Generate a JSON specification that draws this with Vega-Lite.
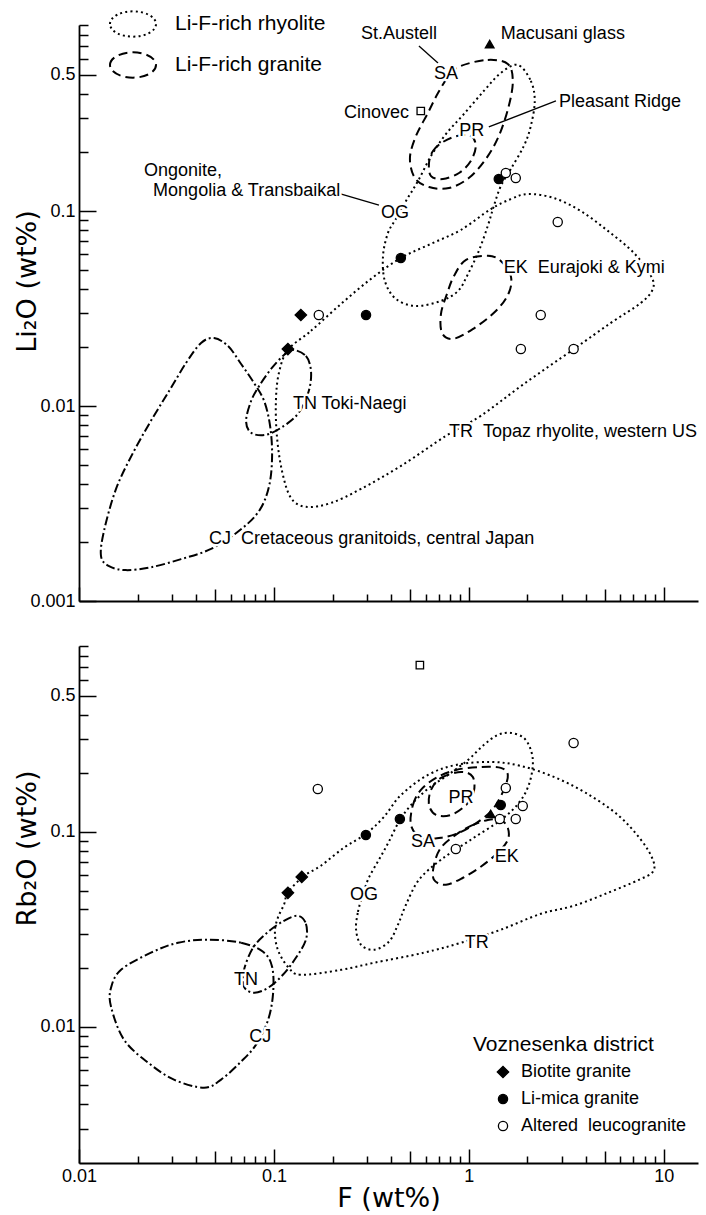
{
  "$schema": "https://vega.github.io/schema/vega-lite/v6.json",
  "padding": {"left": 13, "top": 0, "right": 4, "bottom": 0},
  "config": {
    "font": "Liberation Sans",
    "view": {"stroke": null},
    "axis": {"domainColor": "black", "domainWidth": 1.8, "tickColor": "black", "tickWidth": 1.5, "labelColor": "black", "labelFont": "Liberation Sans", "labelFontSize": 18, "titleColor": "black", "titleFont": "DejaVu Sans", "titleFontSize": 27, "titleFontWeight": "normal", "grid": false, "labelFlush": false, "labelOverlap": false}
  },
  "datasets": {
    "contoursTop": [
      {"id": "TR", "kind": "Li-F-rich rhyolite", "order": 1, "x": 0.118, "y": 0.0194},
      {"id": "TR", "kind": "Li-F-rich rhyolite", "order": 2, "x": 0.155, "y": 0.0243},
      {"id": "TR", "kind": "Li-F-rich rhyolite", "order": 3, "x": 0.221, "y": 0.0334},
      {"id": "TR", "kind": "Li-F-rich rhyolite", "order": 4, "x": 0.315, "y": 0.0449},
      {"id": "TR", "kind": "Li-F-rich rhyolite", "order": 5, "x": 0.449, "y": 0.0575},
      {"id": "TR", "kind": "Li-F-rich rhyolite", "order": 6, "x": 0.64, "y": 0.0679},
      {"id": "TR", "kind": "Li-F-rich rhyolite", "order": 7, "x": 0.912, "y": 0.0801},
      {"id": "TR", "kind": "Li-F-rich rhyolite", "order": 8, "x": 1.297, "y": 0.1024},
      {"id": "TR", "kind": "Li-F-rich rhyolite", "order": 9, "x": 1.643, "y": 0.1152},
      {"id": "TR", "kind": "Li-F-rich rhyolite", "order": 10, "x": 2.01, "y": 0.1223},
      {"id": "TR", "kind": "Li-F-rich rhyolite", "order": 11, "x": 2.731, "y": 0.1166},
      {"id": "TR", "kind": "Li-F-rich rhyolite", "order": 12, "x": 3.758, "y": 0.1},
      {"id": "TR", "kind": "Li-F-rich rhyolite", "order": 13, "x": 5.171, "y": 0.0791},
      {"id": "TR", "kind": "Li-F-rich rhyolite", "order": 14, "x": 7.032, "y": 0.061},
      {"id": "TR", "kind": "Li-F-rich rhyolite", "order": 15, "x": 8.597, "y": 0.0465},
      {"id": "TR", "kind": "Li-F-rich rhyolite", "order": 16, "x": 8.802, "y": 0.0399},
      {"id": "TR", "kind": "Li-F-rich rhyolite", "order": 17, "x": 7.638, "y": 0.0338},
      {"id": "TR", "kind": "Li-F-rich rhyolite", "order": 18, "x": 5.358, "y": 0.0267},
      {"id": "TR", "kind": "Li-F-rich rhyolite", "order": 19, "x": 3.46, "y": 0.0196},
      {"id": "TR", "kind": "Li-F-rich rhyolite", "order": 20, "x": 1.916, "y": 0.01297},
      {"id": "TR", "kind": "Li-F-rich rhyolite", "order": 21, "x": 1.152, "y": 0.00891},
      {"id": "TR", "kind": "Li-F-rich rhyolite", "order": 22, "x": 0.764, "y": 0.00703},
      {"id": "TR", "kind": "Li-F-rich rhyolite", "order": 23, "x": 0.449, "y": 0.00493},
      {"id": "TR", "kind": "Li-F-rich rhyolite", "order": 24, "x": 0.28, "y": 0.00376},
      {"id": "TR", "kind": "Li-F-rich rhyolite", "order": 25, "x": 0.196, "y": 0.00318},
      {"id": "TR", "kind": "Li-F-rich rhyolite", "order": 26, "x": 0.146, "y": 0.00304},
      {"id": "TR", "kind": "Li-F-rich rhyolite", "order": 27, "x": 0.1223, "y": 0.00338},
      {"id": "TR", "kind": "Li-F-rich rhyolite", "order": 28, "x": 0.11, "y": 0.00465},
      {"id": "TR", "kind": "Li-F-rich rhyolite", "order": 29, "x": 0.1036, "y": 0.00703},
      {"id": "TR", "kind": "Li-F-rich rhyolite", "order": 30, "x": 0.1024, "y": 0.01061},
      {"id": "TR", "kind": "Li-F-rich rhyolite", "order": 31, "x": 0.1061, "y": 0.01477},
      {"id": "OG", "kind": "Li-F-rich rhyolite", "order": 1, "x": 1.785, "y": 0.562},
      {"id": "OG", "kind": "Li-F-rich rhyolite", "order": 2, "x": 2.081, "y": 0.465},
      {"id": "OG", "kind": "Li-F-rich rhyolite", "order": 3, "x": 2.18, "y": 0.367},
      {"id": "OG", "kind": "Li-F-rich rhyolite", "order": 4, "x": 2.081, "y": 0.273},
      {"id": "OG", "kind": "Li-F-rich rhyolite", "order": 5, "x": 1.916, "y": 0.2156},
      {"id": "OG", "kind": "Li-F-rich rhyolite", "order": 6, "x": 1.643, "y": 0.1643},
      {"id": "OG", "kind": "Li-F-rich rhyolite", "order": 7, "x": 1.46, "y": 0.1344},
      {"id": "OG", "kind": "Li-F-rich rhyolite", "order": 8, "x": 1.344, "y": 0.1061},
      {"id": "OG", "kind": "Li-F-rich rhyolite", "order": 9, "x": 1.252, "y": 0.084},
      {"id": "OG", "kind": "Li-F-rich rhyolite", "order": 10, "x": 1.126, "y": 0.0625},
      {"id": "OG", "kind": "Li-F-rich rhyolite", "order": 11, "x": 0.991, "y": 0.0476},
      {"id": "OG", "kind": "Li-F-rich rhyolite", "order": 12, "x": 0.88, "y": 0.0389},
      {"id": "OG", "kind": "Li-F-rich rhyolite", "order": 13, "x": 0.72, "y": 0.0346},
      {"id": "OG", "kind": "Li-F-rich rhyolite", "order": 14, "x": 0.536, "y": 0.0326},
      {"id": "OG", "kind": "Li-F-rich rhyolite", "order": 15, "x": 0.423, "y": 0.0354},
      {"id": "OG", "kind": "Li-F-rich rhyolite", "order": 16, "x": 0.371, "y": 0.0438},
      {"id": "OG", "kind": "Li-F-rich rhyolite", "order": 17, "x": 0.363, "y": 0.0589},
      {"id": "OG", "kind": "Li-F-rich rhyolite", "order": 18, "x": 0.385, "y": 0.0773},
      {"id": "OG", "kind": "Li-F-rich rhyolite", "order": 19, "x": 0.423, "y": 0.0912},
      {"id": "OG", "kind": "Li-F-rich rhyolite", "order": 20, "x": 0.476, "y": 0.1126},
      {"id": "OG", "kind": "Li-F-rich rhyolite", "order": 21, "x": 0.549, "y": 0.1426},
      {"id": "OG", "kind": "Li-F-rich rhyolite", "order": 22, "x": 0.64, "y": 0.1916},
      {"id": "OG", "kind": "Li-F-rich rhyolite", "order": 23, "x": 0.764, "y": 0.2485},
      {"id": "OG", "kind": "Li-F-rich rhyolite", "order": 24, "x": 0.945, "y": 0.3148},
      {"id": "OG", "kind": "Li-F-rich rhyolite", "order": 25, "x": 1.194, "y": 0.413},
      {"id": "OG", "kind": "Li-F-rich rhyolite", "order": 26, "x": 1.46, "y": 0.511},
      {"id": "SA", "kind": "Li-F-rich granite", "order": 1, "x": 0.912, "y": 0.555},
      {"id": "SA", "kind": "Li-F-rich granite", "order": 2, "x": 1.252, "y": 0.596},
      {"id": "SA", "kind": "Li-F-rich granite", "order": 3, "x": 1.586, "y": 0.568},
      {"id": "SA", "kind": "Li-F-rich granite", "order": 4, "x": 1.682, "y": 0.465},
      {"id": "SA", "kind": "Li-F-rich granite", "order": 5, "x": 1.604, "y": 0.346},
      {"id": "SA", "kind": "Li-F-rich granite", "order": 6, "x": 1.426, "y": 0.2427},
      {"id": "SA", "kind": "Li-F-rich granite", "order": 7, "x": 1.223, "y": 0.1849},
      {"id": "SA", "kind": "Li-F-rich granite", "order": 8, "x": 1.0, "y": 0.1477},
      {"id": "SA", "kind": "Li-F-rich granite", "order": 9, "x": 0.791, "y": 0.1312},
      {"id": "SA", "kind": "Li-F-rich granite", "order": 10, "x": 0.625, "y": 0.1328},
      {"id": "SA", "kind": "Li-F-rich granite", "order": 11, "x": 0.529, "y": 0.1477},
      {"id": "SA", "kind": "Li-F-rich granite", "order": 12, "x": 0.499, "y": 0.1871},
      {"id": "SA", "kind": "Li-F-rich granite", "order": 13, "x": 0.536, "y": 0.2427},
      {"id": "SA", "kind": "Li-F-rich granite", "order": 14, "x": 0.617, "y": 0.3185},
      {"id": "SA", "kind": "Li-F-rich granite", "order": 15, "x": 0.695, "y": 0.403},
      {"id": "SA", "kind": "Li-F-rich granite", "order": 16, "x": 0.791, "y": 0.493},
      {"id": "PR", "kind": "Li-F-rich granite", "order": 1, "x": 0.625, "y": 0.1764},
      {"id": "PR", "kind": "Li-F-rich granite", "order": 2, "x": 0.655, "y": 0.2032},
      {"id": "PR", "kind": "Li-F-rich granite", "order": 3, "x": 0.737, "y": 0.2261},
      {"id": "PR", "kind": "Li-F-rich granite", "order": 4, "x": 0.87, "y": 0.2427},
      {"id": "PR", "kind": "Li-F-rich granite", "order": 5, "x": 1.024, "y": 0.2427},
      {"id": "PR", "kind": "Li-F-rich granite", "order": 6, "x": 1.086, "y": 0.2156},
      {"id": "PR", "kind": "Li-F-rich granite", "order": 7, "x": 1.024, "y": 0.1806},
      {"id": "PR", "kind": "Li-F-rich granite", "order": 8, "x": 0.891, "y": 0.1567},
      {"id": "PR", "kind": "Li-F-rich granite", "order": 9, "x": 0.737, "y": 0.146},
      {"id": "PR", "kind": "Li-F-rich granite", "order": 10, "x": 0.64, "y": 0.1512},
      {"id": "EK", "kind": "Li-F-rich granite", "order": 1, "x": 1.252, "y": 0.0589},
      {"id": "EK", "kind": "Li-F-rich granite", "order": 2, "x": 1.46, "y": 0.0555},
      {"id": "EK", "kind": "Li-F-rich granite", "order": 3, "x": 1.643, "y": 0.0465},
      {"id": "EK", "kind": "Li-F-rich granite", "order": 4, "x": 1.604, "y": 0.038},
      {"id": "EK", "kind": "Li-F-rich granite", "order": 5, "x": 1.376, "y": 0.0307},
      {"id": "EK", "kind": "Li-F-rich granite", "order": 6, "x": 1.048, "y": 0.0248},
      {"id": "EK", "kind": "Li-F-rich granite", "order": 7, "x": 0.83, "y": 0.0221},
      {"id": "EK", "kind": "Li-F-rich granite", "order": 8, "x": 0.729, "y": 0.0237},
      {"id": "EK", "kind": "Li-F-rich granite", "order": 9, "x": 0.72, "y": 0.0297},
      {"id": "EK", "kind": "Li-F-rich granite", "order": 10, "x": 0.773, "y": 0.0376},
      {"id": "EK", "kind": "Li-F-rich granite", "order": 11, "x": 0.84, "y": 0.0465},
      {"id": "EK", "kind": "Li-F-rich granite", "order": 12, "x": 0.968, "y": 0.0562},
      {"id": "TN", "kind": "other", "order": 1, "x": 0.1252, "y": 0.0194},
      {"id": "TN", "kind": "other", "order": 2, "x": 0.146, "y": 0.01806},
      {"id": "TN", "kind": "other", "order": 3, "x": 0.155, "y": 0.01512},
      {"id": "TN", "kind": "other", "order": 4, "x": 0.151, "y": 0.01194},
      {"id": "TN", "kind": "other", "order": 5, "x": 0.134, "y": 0.00923},
      {"id": "TN", "kind": "other", "order": 6, "x": 0.1126, "y": 0.00791},
      {"id": "TN", "kind": "other", "order": 7, "x": 0.0912, "y": 0.00712},
      {"id": "TN", "kind": "other", "order": 8, "x": 0.0764, "y": 0.00729},
      {"id": "TN", "kind": "other", "order": 9, "x": 0.072, "y": 0.0084},
      {"id": "TN", "kind": "other", "order": 10, "x": 0.0764, "y": 0.01061},
      {"id": "TN", "kind": "other", "order": 11, "x": 0.084, "y": 0.01267},
      {"id": "TN", "kind": "other", "order": 12, "x": 0.0967, "y": 0.01549},
      {"id": "TN", "kind": "other", "order": 13, "x": 0.1126, "y": 0.01827},
      {"id": "CJ", "kind": "other", "order": 1, "x": 0.0493, "y": 0.0223},
      {"id": "CJ", "kind": "other", "order": 2, "x": 0.0582, "y": 0.0203},
      {"id": "CJ", "kind": "other", "order": 3, "x": 0.0679, "y": 0.01643},
      {"id": "CJ", "kind": "other", "order": 4, "x": 0.0791, "y": 0.01312},
      {"id": "CJ", "kind": "other", "order": 5, "x": 0.0891, "y": 0.01061},
      {"id": "CJ", "kind": "other", "order": 6, "x": 0.0956, "y": 0.00791},
      {"id": "CJ", "kind": "other", "order": 7, "x": 0.0979, "y": 0.00555},
      {"id": "CJ", "kind": "other", "order": 8, "x": 0.0945, "y": 0.00389},
      {"id": "CJ", "kind": "other", "order": 9, "x": 0.084, "y": 0.0029},
      {"id": "CJ", "kind": "other", "order": 10, "x": 0.0663, "y": 0.00229},
      {"id": "CJ", "kind": "other", "order": 11, "x": 0.0476, "y": 0.00185},
      {"id": "CJ", "kind": "other", "order": 12, "x": 0.0334, "y": 0.00164},
      {"id": "CJ", "kind": "other", "order": 13, "x": 0.0234, "y": 0.00149},
      {"id": "CJ", "kind": "other", "order": 14, "x": 0.0174, "y": 0.00144},
      {"id": "CJ", "kind": "other", "order": 15, "x": 0.01426, "y": 0.00151},
      {"id": "CJ", "kind": "other", "order": 16, "x": 0.01297, "y": 0.0017},
      {"id": "CJ", "kind": "other", "order": 17, "x": 0.01344, "y": 0.00229},
      {"id": "CJ", "kind": "other", "order": 18, "x": 0.01549, "y": 0.00376},
      {"id": "CJ", "kind": "other", "order": 19, "x": 0.01893, "y": 0.00575},
      {"id": "CJ", "kind": "other", "order": 20, "x": 0.0234, "y": 0.0084},
      {"id": "CJ", "kind": "other", "order": 21, "x": 0.029, "y": 0.01194},
      {"id": "CJ", "kind": "other", "order": 22, "x": 0.0354, "y": 0.01662},
      {"id": "CJ", "kind": "other", "order": 23, "x": 0.0423, "y": 0.02106}
    ],
    "contoursBottom": [
      {"id": "TR", "kind": "Li-F-rich rhyolite", "order": 1, "x": 0.118, "y": 0.0487},
      {"id": "TR", "kind": "Li-F-rich rhyolite", "order": 2, "x": 0.1409, "y": 0.0589},
      {"id": "TR", "kind": "Li-F-rich rhyolite", "order": 3, "x": 0.1743, "y": 0.0671},
      {"id": "TR", "kind": "Li-F-rich rhyolite", "order": 4, "x": 0.2287, "y": 0.083},
      {"id": "TR", "kind": "Li-F-rich rhyolite", "order": 5, "x": 0.2967, "y": 0.0979},
      {"id": "TR", "kind": "Li-F-rich rhyolite", "order": 6, "x": 0.367, "y": 0.1194},
      {"id": "TR", "kind": "Li-F-rich rhyolite", "order": 7, "x": 0.449, "y": 0.1549},
      {"id": "TR", "kind": "Li-F-rich rhyolite", "order": 8, "x": 0.617, "y": 0.1961},
      {"id": "TR", "kind": "Li-F-rich rhyolite", "order": 9, "x": 0.86, "y": 0.2208},
      {"id": "TR", "kind": "Li-F-rich rhyolite", "order": 10, "x": 1.297, "y": 0.2287},
      {"id": "TR", "kind": "Li-F-rich rhyolite", "order": 11, "x": 1.849, "y": 0.2182},
      {"id": "TR", "kind": "Li-F-rich rhyolite", "order": 12, "x": 2.731, "y": 0.1916},
      {"id": "TR", "kind": "Li-F-rich rhyolite", "order": 13, "x": 3.987, "y": 0.1586},
      {"id": "TR", "kind": "Li-F-rich rhyolite", "order": 14, "x": 5.82, "y": 0.1223},
      {"id": "TR", "kind": "Li-F-rich rhyolite", "order": 15, "x": 7.638, "y": 0.0912},
      {"id": "TR", "kind": "Li-F-rich rhyolite", "order": 16, "x": 8.802, "y": 0.072},
      {"id": "TR", "kind": "Li-F-rich rhyolite", "order": 17, "x": 8.802, "y": 0.0625},
      {"id": "TR", "kind": "Li-F-rich rhyolite", "order": 18, "x": 7.46, "y": 0.0568},
      {"id": "TR", "kind": "Li-F-rich rhyolite", "order": 19, "x": 5.171, "y": 0.0487},
      {"id": "TR", "kind": "Li-F-rich rhyolite", "order": 20, "x": 3.46, "y": 0.0418},
      {"id": "TR", "kind": "Li-F-rich rhyolite", "order": 21, "x": 2.342, "y": 0.038},
      {"id": "TR", "kind": "Li-F-rich rhyolite", "order": 22, "x": 1.46, "y": 0.0315},
      {"id": "TR", "kind": "Li-F-rich rhyolite", "order": 23, "x": 0.912, "y": 0.027},
      {"id": "TR", "kind": "Li-F-rich rhyolite", "order": 24, "x": 0.589, "y": 0.024},
      {"id": "TR", "kind": "Li-F-rich rhyolite", "order": 25, "x": 0.326, "y": 0.0213},
      {"id": "TR", "kind": "Li-F-rich rhyolite", "order": 26, "x": 0.221, "y": 0.0196},
      {"id": "TR", "kind": "Li-F-rich rhyolite", "order": 27, "x": 0.1376, "y": 0.01849},
      {"id": "TR", "kind": "Li-F-rich rhyolite", "order": 28, "x": 0.118, "y": 0.02032},
      {"id": "TR", "kind": "Li-F-rich rhyolite", "order": 29, "x": 0.1048, "y": 0.02485},
      {"id": "TR", "kind": "Li-F-rich rhyolite", "order": 30, "x": 0.1012, "y": 0.0307},
      {"id": "TR", "kind": "Li-F-rich rhyolite", "order": 31, "x": 0.1048, "y": 0.0363},
      {"id": "TR", "kind": "Li-F-rich rhyolite", "order": 32, "x": 0.1126, "y": 0.0423},
      {"id": "OG", "kind": "Li-F-rich rhyolite", "order": 1, "x": 0.264, "y": 0.0315},
      {"id": "OG", "kind": "Li-F-rich rhyolite", "order": 2, "x": 0.27, "y": 0.0389},
      {"id": "OG", "kind": "Li-F-rich rhyolite", "order": 3, "x": 0.286, "y": 0.0476},
      {"id": "OG", "kind": "Li-F-rich rhyolite", "order": 4, "x": 0.307, "y": 0.0582},
      {"id": "OG", "kind": "Li-F-rich rhyolite", "order": 5, "x": 0.346, "y": 0.072},
      {"id": "OG", "kind": "Li-F-rich rhyolite", "order": 6, "x": 0.389, "y": 0.0891},
      {"id": "OG", "kind": "Li-F-rich rhyolite", "order": 7, "x": 0.443, "y": 0.1152},
      {"id": "OG", "kind": "Li-F-rich rhyolite", "order": 8, "x": 0.517, "y": 0.1409},
      {"id": "OG", "kind": "Li-F-rich rhyolite", "order": 9, "x": 0.625, "y": 0.1682},
      {"id": "OG", "kind": "Li-F-rich rhyolite", "order": 10, "x": 0.782, "y": 0.1961},
      {"id": "OG", "kind": "Li-F-rich rhyolite", "order": 11, "x": 0.991, "y": 0.2342},
      {"id": "OG", "kind": "Li-F-rich rhyolite", "order": 12, "x": 1.194, "y": 0.2797},
      {"id": "OG", "kind": "Li-F-rich rhyolite", "order": 13, "x": 1.409, "y": 0.3148},
      {"id": "OG", "kind": "Li-F-rich rhyolite", "order": 14, "x": 1.643, "y": 0.3223},
      {"id": "OG", "kind": "Li-F-rich rhyolite", "order": 15, "x": 1.916, "y": 0.3038},
      {"id": "OG", "kind": "Li-F-rich rhyolite", "order": 16, "x": 2.081, "y": 0.2636},
      {"id": "OG", "kind": "Li-F-rich rhyolite", "order": 17, "x": 2.131, "y": 0.2208},
      {"id": "OG", "kind": "Li-F-rich rhyolite", "order": 18, "x": 2.032, "y": 0.1743},
      {"id": "OG", "kind": "Li-F-rich rhyolite", "order": 19, "x": 1.806, "y": 0.1409},
      {"id": "OG", "kind": "Li-F-rich rhyolite", "order": 20, "x": 1.46, "y": 0.1152},
      {"id": "OG", "kind": "Li-F-rich rhyolite", "order": 21, "x": 1.024, "y": 0.0912},
      {"id": "OG", "kind": "Li-F-rich rhyolite", "order": 22, "x": 0.72, "y": 0.072},
      {"id": "OG", "kind": "Li-F-rich rhyolite", "order": 23, "x": 0.555, "y": 0.0568},
      {"id": "OG", "kind": "Li-F-rich rhyolite", "order": 24, "x": 0.476, "y": 0.0423},
      {"id": "OG", "kind": "Li-F-rich rhyolite", "order": 25, "x": 0.433, "y": 0.0334},
      {"id": "OG", "kind": "Li-F-rich rhyolite", "order": 26, "x": 0.389, "y": 0.0273},
      {"id": "OG", "kind": "Li-F-rich rhyolite", "order": 27, "x": 0.326, "y": 0.02485},
      {"id": "OG", "kind": "Li-F-rich rhyolite", "order": 28, "x": 0.28, "y": 0.02636},
      {"id": "PR", "kind": "Li-F-rich granite", "order": 1, "x": 0.64, "y": 0.1643},
      {"id": "PR", "kind": "Li-F-rich granite", "order": 2, "x": 0.72, "y": 0.1893},
      {"id": "PR", "kind": "Li-F-rich granite", "order": 3, "x": 0.912, "y": 0.2032},
      {"id": "PR", "kind": "Li-F-rich granite", "order": 4, "x": 1.048, "y": 0.1916},
      {"id": "PR", "kind": "Li-F-rich granite", "order": 5, "x": 1.061, "y": 0.1605},
      {"id": "PR", "kind": "Li-F-rich granite", "order": 6, "x": 0.968, "y": 0.1376},
      {"id": "PR", "kind": "Li-F-rich granite", "order": 7, "x": 0.81, "y": 0.1223},
      {"id": "PR", "kind": "Li-F-rich granite", "order": 8, "x": 0.679, "y": 0.1223},
      {"id": "PR", "kind": "Li-F-rich granite", "order": 9, "x": 0.625, "y": 0.1376},
      {"id": "SA", "kind": "Li-F-rich granite", "order": 1, "x": 0.505, "y": 0.1086},
      {"id": "SA", "kind": "Li-F-rich granite", "order": 2, "x": 0.517, "y": 0.1376},
      {"id": "SA", "kind": "Li-F-rich granite", "order": 3, "x": 0.568, "y": 0.1643},
      {"id": "SA", "kind": "Li-F-rich granite", "order": 4, "x": 0.679, "y": 0.1893},
      {"id": "SA", "kind": "Li-F-rich granite", "order": 5, "x": 0.86, "y": 0.2081},
      {"id": "SA", "kind": "Li-F-rich granite", "order": 6, "x": 1.152, "y": 0.2156},
      {"id": "SA", "kind": "Li-F-rich granite", "order": 7, "x": 1.46, "y": 0.2131},
      {"id": "SA", "kind": "Li-F-rich granite", "order": 8, "x": 1.586, "y": 0.1961},
      {"id": "SA", "kind": "Li-F-rich granite", "order": 9, "x": 1.512, "y": 0.1643},
      {"id": "SA", "kind": "Li-F-rich granite", "order": 10, "x": 1.344, "y": 0.1328},
      {"id": "SA", "kind": "Li-F-rich granite", "order": 11, "x": 1.152, "y": 0.1152},
      {"id": "SA", "kind": "Li-F-rich granite", "order": 12, "x": 0.912, "y": 0.1},
      {"id": "SA", "kind": "Li-F-rich granite", "order": 13, "x": 0.72, "y": 0.0934},
      {"id": "SA", "kind": "Li-F-rich granite", "order": 14, "x": 0.568, "y": 0.0934},
      {"id": "EK", "kind": "Li-F-rich granite", "order": 1, "x": 0.86, "y": 0.0968},
      {"id": "EK", "kind": "Li-F-rich granite", "order": 2, "x": 1.024, "y": 0.1074},
      {"id": "EK", "kind": "Li-F-rich granite", "order": 3, "x": 1.252, "y": 0.1152},
      {"id": "EK", "kind": "Li-F-rich granite", "order": 4, "x": 1.46, "y": 0.1152},
      {"id": "EK", "kind": "Li-F-rich granite", "order": 5, "x": 1.586, "y": 0.1048},
      {"id": "EK", "kind": "Li-F-rich granite", "order": 6, "x": 1.586, "y": 0.0912},
      {"id": "EK", "kind": "Li-F-rich granite", "order": 7, "x": 1.409, "y": 0.0782},
      {"id": "EK", "kind": "Li-F-rich granite", "order": 8, "x": 1.152, "y": 0.0663},
      {"id": "EK", "kind": "Li-F-rich granite", "order": 9, "x": 0.934, "y": 0.0582},
      {"id": "EK", "kind": "Li-F-rich granite", "order": 10, "x": 0.764, "y": 0.0536},
      {"id": "EK", "kind": "Li-F-rich granite", "order": 11, "x": 0.663, "y": 0.0568},
      {"id": "EK", "kind": "Li-F-rich granite", "order": 12, "x": 0.663, "y": 0.0679},
      {"id": "EK", "kind": "Li-F-rich granite", "order": 13, "x": 0.72, "y": 0.083},
      {"id": "TN", "kind": "other", "order": 1, "x": 0.1328, "y": 0.0371},
      {"id": "TN", "kind": "other", "order": 2, "x": 0.146, "y": 0.0338},
      {"id": "TN", "kind": "other", "order": 3, "x": 0.146, "y": 0.028},
      {"id": "TN", "kind": "other", "order": 4, "x": 0.1297, "y": 0.0226},
      {"id": "TN", "kind": "other", "order": 5, "x": 0.1112, "y": 0.01849},
      {"id": "TN", "kind": "other", "order": 6, "x": 0.0934, "y": 0.01586},
      {"id": "TN", "kind": "other", "order": 7, "x": 0.0791, "y": 0.01495},
      {"id": "TN", "kind": "other", "order": 8, "x": 0.0703, "y": 0.01605},
      {"id": "TN", "kind": "other", "order": 9, "x": 0.0703, "y": 0.01962},
      {"id": "TN", "kind": "other", "order": 10, "x": 0.0782, "y": 0.02544},
      {"id": "TN", "kind": "other", "order": 11, "x": 0.0923, "y": 0.0304},
      {"id": "TN", "kind": "other", "order": 12, "x": 0.1126, "y": 0.035},
      {"id": "CJ", "kind": "other", "order": 1, "x": 0.0459, "y": 0.028},
      {"id": "CJ", "kind": "other", "order": 2, "x": 0.0679, "y": 0.027},
      {"id": "CJ", "kind": "other", "order": 3, "x": 0.088, "y": 0.02427},
      {"id": "CJ", "kind": "other", "order": 4, "x": 0.0979, "y": 0.02032},
      {"id": "CJ", "kind": "other", "order": 5, "x": 0.0991, "y": 0.01495},
      {"id": "CJ", "kind": "other", "order": 6, "x": 0.0934, "y": 0.01086},
      {"id": "CJ", "kind": "other", "order": 7, "x": 0.081, "y": 0.0081},
      {"id": "CJ", "kind": "other", "order": 8, "x": 0.0679, "y": 0.00663},
      {"id": "CJ", "kind": "other", "order": 9, "x": 0.0536, "y": 0.00536},
      {"id": "CJ", "kind": "other", "order": 10, "x": 0.0438, "y": 0.00487},
      {"id": "CJ", "kind": "other", "order": 11, "x": 0.0307, "y": 0.00536},
      {"id": "CJ", "kind": "other", "order": 12, "x": 0.0226, "y": 0.00655},
      {"id": "CJ", "kind": "other", "order": 13, "x": 0.017, "y": 0.0086},
      {"id": "CJ", "kind": "other", "order": 14, "x": 0.0146, "y": 0.01267},
      {"id": "CJ", "kind": "other", "order": 15, "x": 0.0146, "y": 0.01586},
      {"id": "CJ", "kind": "other", "order": 16, "x": 0.01643, "y": 0.01962},
      {"id": "CJ", "kind": "other", "order": 17, "x": 0.0234, "y": 0.024},
      {"id": "CJ", "kind": "other", "order": 18, "x": 0.0322, "y": 0.027}
    ],
    "pointsTop": [
      {"type": "Biotite granite", "x": 0.1375, "y": 0.0293},
      {"type": "Biotite granite", "x": 0.118, "y": 0.0196},
      {"type": "Li-mica granite", "x": 0.297, "y": 0.0293},
      {"type": "Li-mica granite", "x": 0.448, "y": 0.0574},
      {"type": "Li-mica granite", "x": 1.425, "y": 0.146},
      {"type": "Altered\u00a0\u00a0leucogranite", "x": 0.17, "y": 0.0293},
      {"type": "Altered\u00a0\u00a0leucogranite", "x": 1.549, "y": 0.1567},
      {"type": "Altered\u00a0\u00a0leucogranite", "x": 1.742, "y": 0.1476},
      {"type": "Altered\u00a0\u00a0leucogranite", "x": 2.86, "y": 0.0878},
      {"type": "Altered\u00a0\u00a0leucogranite", "x": 2.34, "y": 0.0293},
      {"type": "Altered\u00a0\u00a0leucogranite", "x": 1.85, "y": 0.0196},
      {"type": "Altered\u00a0\u00a0leucogranite", "x": 3.45, "y": 0.0196},
      {"type": "Cinovec", "x": 0.567, "y": 0.326},
      {"type": "Macusani glass", "x": 1.28, "y": 0.718}
    ],
    "pointsBottom": [
      {"type": "Biotite granite", "x": 0.139, "y": 0.0588},
      {"type": "Biotite granite", "x": 0.118, "y": 0.0487},
      {"type": "Li-mica granite", "x": 0.2965, "y": 0.0965},
      {"type": "Li-mica granite", "x": 0.443, "y": 0.1166},
      {"type": "Li-mica granite", "x": 1.459, "y": 0.1375},
      {"type": "Altered\u00a0\u00a0leucogranite", "x": 0.168, "y": 0.166},
      {"type": "Altered\u00a0\u00a0leucogranite", "x": 3.45, "y": 0.286},
      {"type": "Altered\u00a0\u00a0leucogranite", "x": 1.549, "y": 0.168},
      {"type": "Altered\u00a0\u00a0leucogranite", "x": 1.892, "y": 0.136},
      {"type": "Altered\u00a0\u00a0leucogranite", "x": 1.442, "y": 0.1166},
      {"type": "Altered\u00a0\u00a0leucogranite", "x": 1.742, "y": 0.1166},
      {"type": "Altered\u00a0\u00a0leucogranite", "x": 0.858, "y": 0.0818},
      {"type": "Cinovec", "x": 0.561, "y": 0.718},
      {"type": "Macusani glass", "x": 1.296, "y": 0.1237}
    ],
    "labelsTop": [
      {"text": "Macusani glass", "align": "left", "x": 1.46, "y": 0.81},
      {"text": "Pleasant Ridge", "align": "left", "x": 2.9, "y": 0.363},
      {"text": "Ongonite,", "align": "left", "x": 0.02156, "y": 0.1605},
      {"text": "Mongolia & Transbaikal", "align": "left", "x": 0.024, "y": 0.1267},
      {"text": "EK\u00a0\u00a0Eurajoki & Kymi", "align": "left", "x": 1.512, "y": 0.0511},
      {"text": "TN Toki-Naegi", "align": "left", "x": 0.1252, "y": 0.01024},
      {"text": "TR\u00a0\u00a0Topaz rhyolite, western US", "align": "left", "x": 0.791, "y": 0.00737},
      {"text": "CJ\u00a0\u00a0Cretaceous granitoids, central Japan", "align": "left", "x": 0.0465, "y": 0.00208},
      {"text": "St.Austell", "align": "center", "x": 0.438, "y": 0.81},
      {"text": "SA", "align": "center", "x": 0.764, "y": 0.505},
      {"text": "PR", "align": "center", "x": 1.036, "y": 0.257},
      {"text": "OG", "align": "center", "x": 0.418, "y": 0.0979},
      {"text": "Cinovec", "align": "right", "x": 0.493, "y": 0.3185}
    ],
    "labelsBottom": [
      {"text": "PR", "x": 0.912, "y": 0.1495},
      {"text": "SA", "x": 0.582, "y": 0.0891},
      {"text": "EK", "x": 1.567, "y": 0.0746},
      {"text": "OG", "x": 0.29, "y": 0.0476},
      {"text": "TR", "x": 1.099, "y": 0.027},
      {"text": "TN", "x": 0.072, "y": 0.01743},
      {"text": "CJ", "x": 0.085, "y": 0.00891}
    ],
    "leadersTop": [
      {"x": 0.555, "y": 0.703, "x2": 0.695, "y2": 0.575},
      {"x": 2.8, "y": 0.367, "x2": 1.267, "y2": 0.27},
      {"x": 0.2131, "y": 0.1237, "x2": 0.346, "y2": 0.1074}
    ]
  },
  "resolve": {"legend": {"strokeDash": "independent", "shape": "independent", "fill": "independent", "size": "independent", "stroke": "independent"}},
  "spacing": 35,
  "vconcat": [
    {
      "width": 619,
      "height": 576,
      "resolve": {"axis": {"x": "independent", "y": "independent"}},
      "layer": [
        {
          "data": {"name": "contoursTop"},
          "mark": {"type": "line", "interpolate": "cardinal-closed", "strokeWidth": 2, "color": "black"},
          "encoding": {
            "x": {"field": "x", "type": "quantitative", "scale": {"type": "log", "domain": [0.01, 15], "nice": false}, "axis": {"orient": "bottom", "values": [0.02, 0.03, 0.04, 0.06, 0.07, 0.08, 0.09, 0.2, 0.3, 0.4, 0.6, 0.7, 0.8, 0.9, 2, 3, 4, 6, 7, 8, 9], "tickSize": -7, "labels": false, "domain": false, "title": null}},
            "y": {"field": "y", "type": "quantitative", "scale": {"type": "log", "domain": [0.001, 0.9], "nice": false}, "axis": {"orient": "left", "values": [0.002, 0.003, 0.004, 0.005, 0.006, 0.007, 0.008, 0.009, 0.02, 0.03, 0.04, 0.05, 0.06, 0.07, 0.08, 0.09, 0.2, 0.3, 0.4, 0.6, 0.7, 0.8, 0.9], "tickSize": -9, "labels": false, "domain": false, "title": null}},
            "detail": {"field": "id", "type": "nominal"},
            "order": {"field": "order", "type": "quantitative"},
            "strokeDash": {
              "field": "kind", "type": "nominal",
              "scale": {"domain": ["Li-F-rich rhyolite", "Li-F-rich granite", "other"], "range": [[2, 3.2], [9, 5], [9, 3, 2, 3]]},
              "legend": {"values": ["Li-F-rich rhyolite", "Li-F-rich granite"], "title": null, "orient": "none", "legendX": 30, "legendY": -25, "symbolType": "M-1,0C-1,-0.3038 -0.5523,-0.55 0,-0.55C0.5523,-0.55 1,-0.3038 1,0C1,0.3038 0.5523,0.55 0,0.55C-0.5523,0.55 -1,0.3038 -1,0Z", "symbolSize": 2116, "symbolStrokeColor": "black", "symbolFillColor": "transparent", "symbolStrokeWidth": 2, "labelFontSize": 21, "labelFont": "Liberation Sans", "labelColor": "black", "labelOffset": 18, "rowPadding": 0, "padding": 0, "labelLimit": 400}
            }
          }
        },
        {
          "data": {"name": "leadersTop"},
          "mark": {"type": "rule", "color": "black", "strokeWidth": 1.3},
          "encoding": {
            "x": {"field": "x", "type": "quantitative", "scale": {"type": "log", "domain": [0.01, 15], "nice": false}, "axis": {"orient": "bottom", "values": [0.05, 0.5, 5], "tickSize": -12, "labels": false, "domain": false, "title": null}},
            "y": {"field": "y", "type": "quantitative", "scale": {"type": "log", "domain": [0.001, 0.9], "nice": false}, "axis": null},
            "x2": {"field": "x2"},
            "y2": {"field": "y2"}
          }
        },
        {
          "data": {"name": "pointsTop"},
          "mark": {"type": "point", "stroke": "black", "strokeWidth": 1.3, "opacity": 1, "fillOpacity": 1},
          "encoding": {
            "x": {"field": "x", "type": "quantitative", "scale": {"type": "log", "domain": [0.01, 15], "nice": false}, "axis": {"orient": "bottom", "values": [0.01, 0.1, 1, 10], "tickSize": -14, "labels": false, "domain": true, "title": null}},
            "y": {"field": "y", "type": "quantitative", "scale": {"type": "log", "domain": [0.001, 0.9], "nice": false}, "axis": {"orient": "left", "values": [0.001, 0.01, 0.1, 0.5], "tickSize": -17, "labels": true, "format": "~g", "labelPadding": 21, "domain": true, "title": "Li₂O (wt%)", "titleX": -52, "titleY": 256, "titleBaseline": "middle", "titleAlign": "center"}},
            "shape": {"field": "type", "type": "nominal", "scale": {"domain": ["Biotite granite", "Li-mica granite", "Altered\u00a0\u00a0leucogranite", "Cinovec", "Macusani glass"], "range": ["diamond", "circle", "circle", "square", "triangle-up"]}, "legend": null},
            "fill": {"field": "type", "type": "nominal", "scale": {"domain": ["Biotite granite", "Li-mica granite", "Altered\u00a0\u00a0leucogranite", "Cinovec", "Macusani glass"], "range": ["black", "black", "white", "white", "black"]}, "legend": null},
            "size": {"field": "type", "type": "nominal", "scale": {"type": "ordinal", "domain": ["Biotite granite", "Li-mica granite", "Altered\u00a0\u00a0leucogranite", "Cinovec", "Macusani glass"], "range": [130, 85, 85, 55, 75]}, "legend": null}
          }
        },
        {
          "data": {"name": "labelsTop"},
          "transform": [{"filter": "datum.align == 'left'"}],
          "mark": {"type": "text", "align": "left", "baseline": "middle", "fontSize": 18, "font": "Liberation Sans", "color": "white", "stroke": "white", "strokeWidth": 5, "strokeJoin": "round"},
          "encoding": {
            "x": {"field": "x", "type": "quantitative", "scale": {"type": "log", "domain": [0.01, 15], "nice": false}, "axis": null},
            "y": {"field": "y", "type": "quantitative", "scale": {"type": "log", "domain": [0.001, 0.9], "nice": false}, "axis": null},
            "text": {"field": "text"}
          }
        },
        {
          "data": {"name": "labelsTop"},
          "transform": [{"filter": "datum.align == 'center'"}],
          "mark": {"type": "text", "align": "center", "baseline": "middle", "fontSize": 18, "font": "Liberation Sans", "color": "white", "stroke": "white", "strokeWidth": 5, "strokeJoin": "round"},
          "encoding": {
            "x": {"field": "x", "type": "quantitative", "scale": {"type": "log", "domain": [0.01, 15], "nice": false}, "axis": null},
            "y": {"field": "y", "type": "quantitative", "scale": {"type": "log", "domain": [0.001, 0.9], "nice": false}, "axis": null},
            "text": {"field": "text"}
          }
        },
        {
          "data": {"name": "labelsTop"},
          "transform": [{"filter": "datum.align == 'left'"}],
          "mark": {"type": "text", "align": "left", "baseline": "middle", "fontSize": 18, "font": "Liberation Sans", "color": "black"},
          "encoding": {
            "x": {"field": "x", "type": "quantitative", "scale": {"type": "log", "domain": [0.01, 15], "nice": false}, "axis": null},
            "y": {"field": "y", "type": "quantitative", "scale": {"type": "log", "domain": [0.001, 0.9], "nice": false}, "axis": null},
            "text": {"field": "text"}
          }
        },
        {
          "data": {"name": "labelsTop"},
          "transform": [{"filter": "datum.align == 'center'"}],
          "mark": {"type": "text", "align": "center", "baseline": "middle", "fontSize": 18, "font": "Liberation Sans", "color": "black"},
          "encoding": {
            "x": {"field": "x", "type": "quantitative", "scale": {"type": "log", "domain": [0.01, 15], "nice": false}, "axis": null},
            "y": {"field": "y", "type": "quantitative", "scale": {"type": "log", "domain": [0.001, 0.9], "nice": false}, "axis": null},
            "text": {"field": "text"}
          }
        },
        {
          "data": {"name": "labelsTop"},
          "transform": [{"filter": "datum.align == 'right'"}],
          "mark": {"type": "text", "align": "right", "baseline": "middle", "fontSize": 18, "font": "Liberation Sans", "color": "black"},
          "encoding": {
            "x": {"field": "x", "type": "quantitative", "scale": {"type": "log", "domain": [0.01, 15], "nice": false}, "axis": null},
            "y": {"field": "y", "type": "quantitative", "scale": {"type": "log", "domain": [0.001, 0.9], "nice": false}, "axis": null},
            "text": {"field": "text"}
          }
        }
      ]
    },
    {
      "width": 619,
      "height": 517,
      "resolve": {"axis": {"x": "independent", "y": "independent"}},
      "layer": [
        {
          "data": {"name": "contoursBottom"},
          "mark": {"type": "line", "interpolate": "cardinal-closed", "strokeWidth": 2, "color": "black"},
          "encoding": {
            "x": {"field": "x", "type": "quantitative", "scale": {"type": "log", "domain": [0.01, 15], "nice": false}, "axis": {"orient": "bottom", "values": [0.02, 0.03, 0.04, 0.06, 0.07, 0.08, 0.09, 0.2, 0.3, 0.4, 0.6, 0.7, 0.8, 0.9, 2, 3, 4, 6, 7, 8, 9], "tickSize": -7, "labels": false, "domain": false, "title": null}},
            "y": {"field": "y", "type": "quantitative", "scale": {"type": "log", "domain": [0.002, 0.9], "nice": false}, "axis": {"orient": "left", "values": [0.003, 0.004, 0.005, 0.006, 0.007, 0.008, 0.009, 0.02, 0.03, 0.04, 0.05, 0.06, 0.07, 0.08, 0.09, 0.2, 0.3, 0.4, 0.6, 0.7, 0.8, 0.9], "tickSize": -9, "labels": false, "domain": false, "title": null}},
            "detail": {"field": "id", "type": "nominal"},
            "order": {"field": "order", "type": "quantitative"},
            "strokeDash": {
              "field": "kind", "type": "nominal",
              "scale": {"domain": ["Li-F-rich rhyolite", "Li-F-rich granite", "other"], "range": [[2, 3.2], [9, 5], [9, 3, 2, 3]]},
              "legend": null
            }
          }
        },
        {
          "data": {"name": "labelsBottom"},
          "mark": {"type": "text", "align": "center", "baseline": "middle", "fontSize": 18, "font": "Liberation Sans", "color": "white", "stroke": "white", "strokeWidth": 5, "strokeJoin": "round"},
          "encoding": {
            "x": {"field": "x", "type": "quantitative", "scale": {"type": "log", "domain": [0.01, 15], "nice": false}, "axis": {"orient": "bottom", "values": [0.05, 0.5, 5], "tickSize": -12, "labels": false, "domain": false, "title": null}},
            "y": {"field": "y", "type": "quantitative", "scale": {"type": "log", "domain": [0.002, 0.9], "nice": false}, "axis": null},
            "text": {"field": "text"}
          }
        },
        {
          "data": {"name": "pointsBottom"},
          "mark": {"type": "point", "strokeWidth": 1.3, "opacity": 1, "fillOpacity": 1, "strokeOpacity": 1},
          "encoding": {
            "x": {"field": "x", "type": "quantitative", "scale": {"type": "log", "domain": [0.01, 15], "nice": false}, "axis": {"orient": "bottom", "values": [0.01, 0.1, 1, 10], "tickSize": -14, "labels": true, "format": "~g", "labelPadding": 18, "domain": true, "title": "F (wt%)", "titlePadding": 0}},
            "y": {"field": "y", "type": "quantitative", "scale": {"type": "log", "domain": [0.002, 0.9], "nice": false}, "axis": {"orient": "left", "values": [0.01, 0.1, 0.5], "tickSize": -17, "labels": true, "format": "~g", "labelPadding": 21, "domain": true, "title": "Rb₂O (wt%)", "titleX": -52, "titleY": 202, "titleBaseline": "middle", "titleAlign": "center"}},
            "shape": {"field": "type", "type": "nominal", "scale": {"domain": ["Biotite granite", "Li-mica granite", "Altered\u00a0\u00a0leucogranite", "Cinovec", "Macusani glass"], "range": ["diamond", "circle", "circle", "square", "triangle-up"]},
              "legend": {"values": ["Biotite granite", "Li-mica granite", "Altered\u00a0\u00a0leucogranite"], "title": "Voznesenka district", "orient": "none", "legendX": 394, "legendY": 388, "titleFontSize": 21, "titleFont": "Liberation Sans", "titleFontWeight": "normal", "titleColor": "black", "titlePadding": 8, "titleLimit": 400, "labelFontSize": 18, "labelFont": "Liberation Sans", "labelColor": "black", "symbolOffset": 21, "labelOffset": 9, "rowPadding": 9, "symbolStrokeWidth": 1.3, "padding": 0, "labelLimit": 300}},
            "fill": {"field": "type", "type": "nominal", "scale": {"domain": ["Biotite granite", "Li-mica granite", "Altered\u00a0\u00a0leucogranite", "Cinovec", "Macusani glass"], "range": ["black", "black", "white", "white", "black"]},
              "legend": {"values": ["Biotite granite", "Li-mica granite", "Altered\u00a0\u00a0leucogranite"], "title": "Voznesenka district", "orient": "none", "legendX": 394, "legendY": 388, "titleFontSize": 21, "titleFont": "Liberation Sans", "titleFontWeight": "normal", "titleColor": "black", "titlePadding": 8, "titleLimit": 400, "labelFontSize": 18, "labelFont": "Liberation Sans", "labelColor": "black", "symbolOffset": 21, "labelOffset": 9, "rowPadding": 9, "symbolStrokeWidth": 1.3, "padding": 0, "labelLimit": 300}},
            "stroke": {"field": "type", "type": "nominal", "scale": {"domain": ["Biotite granite", "Li-mica granite", "Altered\u00a0\u00a0leucogranite", "Cinovec", "Macusani glass"], "range": ["black", "black", "black", "black", "black"]},
              "legend": {"values": ["Biotite granite", "Li-mica granite", "Altered\u00a0\u00a0leucogranite"], "title": "Voznesenka district", "orient": "none", "legendX": 394, "legendY": 388, "titleFontSize": 21, "titleFont": "Liberation Sans", "titleFontWeight": "normal", "titleColor": "black", "titlePadding": 8, "titleLimit": 400, "labelFontSize": 18, "labelFont": "Liberation Sans", "labelColor": "black", "symbolOffset": 21, "labelOffset": 9, "rowPadding": 9, "symbolStrokeWidth": 1.3, "padding": 0, "labelLimit": 300}},
            "size": {"field": "type", "type": "nominal", "scale": {"type": "ordinal", "domain": ["Biotite granite", "Li-mica granite", "Altered\u00a0\u00a0leucogranite", "Cinovec", "Macusani glass"], "range": [130, 85, 85, 55, 75]},
              "legend": {"values": ["Biotite granite", "Li-mica granite", "Altered\u00a0\u00a0leucogranite"], "title": "Voznesenka district", "orient": "none", "legendX": 394, "legendY": 388, "titleFontSize": 21, "titleFont": "Liberation Sans", "titleFontWeight": "normal", "titleColor": "black", "titlePadding": 8, "titleLimit": 400, "labelFontSize": 18, "labelFont": "Liberation Sans", "labelColor": "black", "symbolOffset": 21, "labelOffset": 9, "rowPadding": 9, "symbolStrokeWidth": 1.3, "padding": 0, "labelLimit": 300}}
          }
        },
        {
          "data": {"name": "labelsBottom"},
          "mark": {"type": "text", "align": "center", "baseline": "middle", "fontSize": 18, "font": "Liberation Sans", "color": "black"},
          "encoding": {
            "x": {"field": "x", "type": "quantitative", "scale": {"type": "log", "domain": [0.01, 15], "nice": false}, "axis": null},
            "y": {"field": "y", "type": "quantitative", "scale": {"type": "log", "domain": [0.002, 0.9], "nice": false}, "axis": null},
            "text": {"field": "text"}
          }
        }
      ]
    }
  ]
}
